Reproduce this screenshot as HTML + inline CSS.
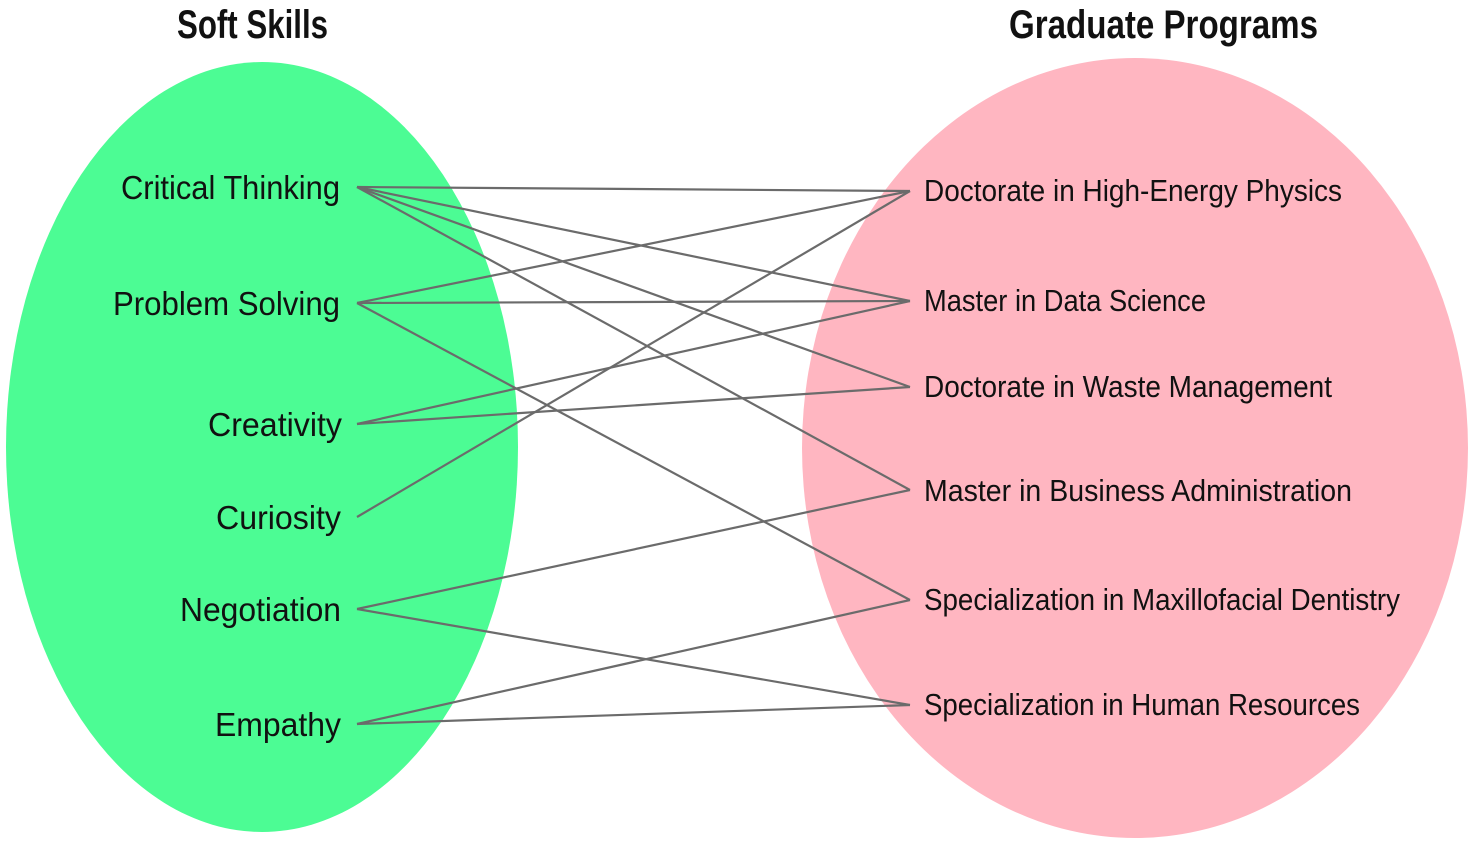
<!DOCTYPE html>
<html><head><meta charset="utf-8"><style>
html,body{margin:0;padding:0;background:#fff;}
svg{display:block;}
text{font-family:"Liberation Sans Narrow","Liberation Sans",sans-serif;fill:#111;}
</style></head><body>
<svg width="1475" height="846" viewBox="0 0 1475 846" xmlns="http://www.w3.org/2000/svg">
<ellipse cx="262" cy="447" rx="256" ry="385" fill="#4cfc94"/>
<ellipse cx="1135" cy="448" rx="333" ry="390" fill="#ffb6c1"/>
<g stroke="#6b6b6b" stroke-width="2.2" fill="none">
<line x1="357" y1="187" x2="910" y2="191"/>
<line x1="357" y1="187" x2="910" y2="301"/>
<line x1="357" y1="187" x2="910" y2="387"/>
<line x1="357" y1="187" x2="910" y2="490"/>
<line x1="357" y1="303" x2="910" y2="191"/>
<line x1="357" y1="303" x2="910" y2="301"/>
<line x1="357" y1="303" x2="910" y2="600"/>
<line x1="357" y1="424" x2="910" y2="301"/>
<line x1="357" y1="424" x2="910" y2="387"/>
<line x1="357" y1="517" x2="910" y2="191"/>
<line x1="357" y1="609" x2="910" y2="490"/>
<line x1="357" y1="609" x2="910" y2="705"/>
<line x1="357" y1="724" x2="910" y2="600"/>
<line x1="357" y1="724" x2="910" y2="705"/>
</g>
<text x="177" y="38" font-size="40" font-weight="bold" textLength="151" lengthAdjust="spacingAndGlyphs">Soft Skills</text>
<text x="1009" y="38" font-size="40" font-weight="bold" textLength="309" lengthAdjust="spacingAndGlyphs">Graduate Programs</text>
<g font-size="33">
<text x="121" y="199" textLength="219" lengthAdjust="spacingAndGlyphs">Critical Thinking</text>
<text x="113" y="315" textLength="227" lengthAdjust="spacingAndGlyphs">Problem Solving</text>
<text x="208" y="436" textLength="134" lengthAdjust="spacingAndGlyphs">Creativity</text>
<text x="216" y="529" textLength="125" lengthAdjust="spacingAndGlyphs">Curiosity</text>
<text x="180" y="621" textLength="161" lengthAdjust="spacingAndGlyphs">Negotiation</text>
<text x="215" y="736" textLength="126" lengthAdjust="spacingAndGlyphs">Empathy</text>
</g>
<g font-size="31">
<text x="924" y="201" textLength="418" lengthAdjust="spacingAndGlyphs">Doctorate in High-Energy Physics</text>
<text x="924" y="311" textLength="282" lengthAdjust="spacingAndGlyphs">Master in Data Science</text>
<text x="924" y="397" textLength="408" lengthAdjust="spacingAndGlyphs">Doctorate in Waste Management</text>
<text x="924" y="501" textLength="428" lengthAdjust="spacingAndGlyphs">Master in Business Administration</text>
<text x="924" y="610" textLength="476" lengthAdjust="spacingAndGlyphs">Specialization in Maxillofacial Dentistry</text>
<text x="924" y="715" textLength="436" lengthAdjust="spacingAndGlyphs">Specialization in Human Resources</text>
</g>
</svg>
</body></html>
